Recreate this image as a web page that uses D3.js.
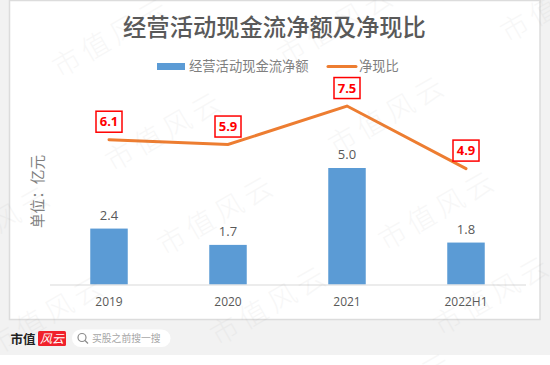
<!DOCTYPE html>
<html>
<head>
<meta charset="utf-8">
<script src="https://cdn.jsdelivr.net/npm/d3@7"></script>
<style>
  html, body { margin: 0; padding: 0; background: #fff; }
  svg { display: block; }
  text { font-family: "Noto Sans CJK SC", sans-serif; }
  .num { font-family: "Open Sans", sans-serif; }
</style>
</head>
<body>
<div id="graph"></div>
<script>
const categories = ["2019", "2020", "2021", "2022H1"];
const cashFlow = [2.4, 1.7, 5.0, 1.8];
const ratio = [6.1, 5.9, 7.5, 4.9];
const seriesNames = ["经营活动现金流净额", "净现比"];
const titleText = "经营活动现金流净额及净现比";
const unitText = "单位：亿元";
const watermarkText = "市值风云";
const watermarkSpots = [[112, 37], [165, 131], [217, 215], [270, 305], [337, 25], [388, 115], [438, 210], [493, 295], [-6, 225], [47, 315], [560, 2], [395, 392]];

const width = 550, height = 365;
const padding = { s: 49.5, e: 525.5, t: 94, b: 284.5 };
const svg = d3.select("#graph").append("svg").attr("width", width).attr("height", height);

// page background and chart card
svg.append("rect").attr("x", -10).attr("y", -10).attr("width", width + 20).attr("height", 365).attr("rx", 9).attr("fill", "#f2f2f2");
svg.append("rect").attr("x", 9.5).attr("y", 0.5).attr("width", 530.5).attr("height", 319).attr("fill", "#fff").attr("stroke", "#dcdcdc").attr("stroke-width", 1.5);

const xScale = d3.scaleBand().domain(categories).range([padding.s, padding.e]).paddingInner(0.685).paddingOuter(0.3425);
const yBar = d3.scaleLinear().domain([0, 5]).range([padding.b, padding.b - 116.5]);
const yLine = d3.scaleLinear().domain([0, 8]).range([padding.b + 2, padding.t]);
const xMid = (d) => xScale(d) + xScale.bandwidth() / 2;

svg.append("text").attr("x", 274.5).attr("y", 36).attr("text-anchor", "middle").attr("font-size", 23.3).attr("font-weight", 500).attr("fill", "#595959").text(titleText);

// legend
svg.append("rect").attr("x", 157).attr("y", 63).attr("width", 28).attr("height", 7).attr("fill", "#5b9bd5");
svg.append("text").attr("x", 189).attr("y", 71).attr("font-size", 13.3).attr("fill", "#7f7f7f").text(seriesNames[0]);
svg.append("line").attr("x1", 328).attr("x2", 356).attr("y1", 66.5).attr("y2", 66.5).attr("stroke", "#ed7d31").attr("stroke-width", 3).attr("stroke-linecap", "round");
svg.append("text").attr("x", 359).attr("y", 71).attr("font-size", 13.3).attr("fill", "#7f7f7f").text(seriesNames[1]);

svg.append("text").attr("transform", "translate(43, 228) rotate(-90)").attr("font-size", 14.6).attr("fill", "#7f7f7f").text(unitText);

// bars
svg.selectAll("rect.bar").data(categories).enter().append("rect").attr("class", "bar")
  .attr("x", (d) => xScale(d))
  .attr("width", xScale.bandwidth())
  .attr("y", (d, i) => yBar(cashFlow[i]))
  .attr("height", (d, i) => yBar(0) - yBar(cashFlow[i]))
  .attr("fill", "#5b9bd5");
svg.selectAll("text.barlabel").data(categories).enter().append("text").attr("class", "barlabel num")
  .attr("x", xMid)
  .attr("y", (d, i) => yBar(cashFlow[i]) - 9)
  .attr("text-anchor", "middle").attr("font-size", 13).attr("fill", "#595959")
  .text((d, i) => cashFlow[i].toFixed(1));

// x axis
const xAxis = svg.append("g").attr("transform", `translate(0, ${padding.b})`).call(d3.axisBottom(xScale).tickSize(0).tickPadding(13));
xAxis.select(".domain").attr("stroke", "#d9d9d9").attr("stroke-width", 1.2);
xAxis.selectAll("text").attr("class", "num").attr("font-size", 12).attr("fill", "#595959").style("font-family", '"Open Sans", sans-serif');

// ratio line
const line = d3.line().x((d, i) => xMid(categories[i])).y((d) => yLine(d));
svg.append("path").datum(ratio).attr("d", line).attr("fill", "none").attr("stroke", "#ed7d31").attr("stroke-width", 3).attr("stroke-linecap", "round");

const tags = svg.selectAll("g.tag").data(categories).enter().append("g").attr("class", "tag")
  .attr("transform", (d, i) => `translate(${xMid(d)}, ${yLine(ratio[i]) - 18})`);
tags.append("rect").attr("x", -13).attr("y", -10.5).attr("width", 26).attr("height", 21).attr("fill", "#fff").attr("stroke", "#ff0000").attr("stroke-width", 1.5);
tags.append("text").attr("class", "num").attr("y", 4.5).attr("text-anchor", "middle").attr("font-size", 13).attr("font-weight", 700).attr("fill", "#ff0000")
  .text((d, i) => ratio[i].toFixed(1));

// footer logo and search pill
svg.append("text").attr("x", 10.5).attr("y", 344).attr("font-size", 12.5).attr("font-weight", 700).attr("fill", "#222").text("市值");
svg.append("rect").attr("x", 38).attr("y", 331).attr("width", 28).attr("height", 15).attr("rx", 1.5).attr("fill", "#f0212b");
svg.append("text").attr("x", 52).attr("y", 343).attr("text-anchor", "middle").attr("font-size", 12).attr("font-style", "italic").attr("fill", "#fff").text("风云");
svg.append("rect").attr("x", 72).attr("y", 329.5).attr("width", 98.5).attr("height", 17.5).attr("rx", 8.7).attr("fill", "#fff");
svg.append("circle").attr("cx", 82).attr("cy", 337.5).attr("r", 4).attr("fill", "none").attr("stroke", "#8c8c8c").attr("stroke-width", 1.2);
svg.append("line").attr("x1", 85).attr("y1", 340.5).attr("x2", 88).attr("y2", 343.5).attr("stroke", "#8c8c8c").attr("stroke-width", 1.2);
svg.append("text").attr("x", 92).attr("y", 342).attr("font-size", 9.8).attr("fill", "#a6a6a6").text("买股之前搜一搜");

// watermark over everything
svg.selectAll("text.mark").data(watermarkSpots).enter().append("text").attr("class", "mark")
  .attr("transform", (d) => `translate(${d[0]}, ${d[1]}) rotate(-30)`)
  .attr("text-anchor", "middle").attr("dy", "0.35em")
  .attr("font-size", 28).attr("letter-spacing", 5).attr("font-weight", 300)
  .attr("fill", "#808080").attr("opacity", 0.06)
  .text(watermarkText);
</script>
</body>
</html>
